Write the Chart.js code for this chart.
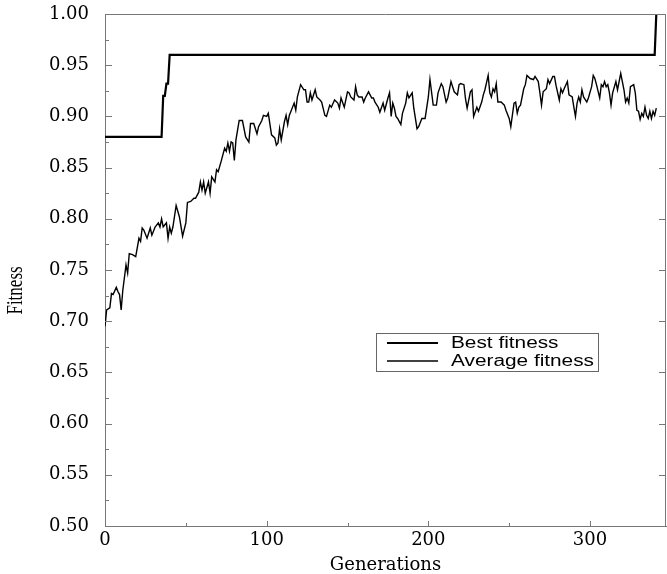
<!DOCTYPE html>
<html>
<head>
<meta charset="utf-8">
<script src="https://cdn.jsdelivr.net/npm/chart.js@4/dist/chart.umd.min.js"></script>
<style>
    body { margin: 0; background: #fff; }
    canvas { display: block; }
</style>
</head>
<body>
<canvas id="fitChart" width="667" height="574"></canvas>
<script>
// Best fitness (step line)
const bestGen = [0, 35, 36, 37, 38, 39, 40, 340, 341];
const bestFit = [0.88, 0.88, 0.92, 0.92, 0.932, 0.932, 0.96, 0.96, 1.00];

// Average fitness
const avgGen = [
    0, 1, 3, 4, 5, 7, 8, 9, 10, 11,
    13, 14, 15, 17, 19, 21, 22, 23, 24, 26,
    28, 29, 31, 33, 34, 35, 36, 38, 39, 40,
    41, 42, 44, 46, 48, 50, 51, 53, 55, 56,
    58, 59, 60, 61, 62, 64, 65, 66, 68, 69,
    70, 72, 74, 75, 76, 77, 78, 79, 80, 81,
    83, 85, 87, 89, 90, 92, 94, 95, 97, 98,
    100, 101, 103, 105, 106, 107, 108, 109, 111, 112,
    113, 114, 117, 118, 119, 121, 123, 124, 125, 126,
    127, 128, 130, 131, 133, 134, 136, 137, 139, 140,
    142, 144, 145, 146, 148, 150, 151, 152, 154, 155,
    156, 157, 159, 160, 161, 163, 165, 166, 167, 169,
    170, 172, 173, 175, 176, 177, 178, 179, 180, 181,
    183, 184, 186, 187, 188, 190, 191, 193, 194, 196,
    198, 200, 201, 203, 205, 206, 208, 209, 211, 212,
    214, 216, 218, 219, 220, 222, 223, 224, 226, 227,
    228, 230, 231, 233, 234, 235, 237, 238, 239, 240,
    241, 242, 243, 245, 247, 248, 250, 251, 253, 254,
    255, 256, 257, 259, 260, 261, 263, 265, 266, 268,
    269, 270, 271, 273, 274, 275, 277, 278, 279, 281,
    282, 283, 284, 286, 287, 289, 290, 291, 292, 293,
    294, 295, 296, 298, 299, 301, 302, 303, 304, 306,
    307, 308, 309, 310, 311, 312, 313, 314, 316, 317,
    319, 320, 321, 322, 323, 324, 325, 327, 328, 329,
    330, 331, 332, 333, 334, 335, 336, 337, 338, 339,
    340, 341
];
const avgFit = [
    0.695, 0.711, 0.713, 0.727, 0.726, 0.733, 0.729, 0.726, 0.711, 0.730,
    0.755, 0.747, 0.766, 0.765, 0.763, 0.781, 0.778, 0.791, 0.789, 0.781,
    0.791, 0.784, 0.792, 0.796, 0.792, 0.800, 0.792, 0.796, 0.781, 0.792,
    0.786, 0.792, 0.813, 0.802, 0.783, 0.796, 0.816, 0.817, 0.820, 0.820,
    0.826, 0.836, 0.828, 0.836, 0.825, 0.836, 0.825, 0.841, 0.836, 0.848,
    0.846, 0.857, 0.869, 0.866, 0.874, 0.866, 0.875, 0.874, 0.857, 0.877,
    0.896, 0.896, 0.880, 0.875, 0.893, 0.893, 0.883, 0.890, 0.896, 0.901,
    0.900, 0.903, 0.882, 0.879, 0.872, 0.874, 0.888, 0.877, 0.895, 0.901,
    0.892, 0.901, 0.913, 0.906, 0.919, 0.931, 0.926, 0.926, 0.914, 0.914,
    0.923, 0.916, 0.926, 0.919, 0.916, 0.914, 0.901, 0.900, 0.911, 0.909,
    0.916, 0.913, 0.908, 0.918, 0.909, 0.924, 0.923, 0.919, 0.916, 0.929,
    0.921, 0.919, 0.919, 0.914, 0.918, 0.924, 0.918, 0.918, 0.914, 0.909,
    0.904, 0.913, 0.906, 0.918, 0.923, 0.900, 0.913, 0.908, 0.900, 0.898,
    0.892, 0.903, 0.913, 0.923, 0.918, 0.923, 0.908, 0.888, 0.890, 0.898,
    0.898, 0.919, 0.936, 0.911, 0.911, 0.923, 0.932, 0.929, 0.914, 0.918,
    0.934, 0.924, 0.921, 0.931, 0.932, 0.931, 0.917, 0.908, 0.924, 0.926,
    0.900, 0.909, 0.905, 0.914, 0.921, 0.926, 0.940, 0.923, 0.919, 0.927,
    0.924, 0.932, 0.914, 0.914, 0.911, 0.906, 0.898, 0.890, 0.913, 0.914,
    0.903, 0.909, 0.911, 0.927, 0.931, 0.940, 0.937, 0.936, 0.939, 0.934,
    0.923, 0.911, 0.924, 0.927, 0.936, 0.932, 0.939, 0.939, 0.930, 0.916,
    0.927, 0.923, 0.927, 0.934, 0.921, 0.919, 0.909, 0.900, 0.913, 0.919,
    0.914, 0.926, 0.919, 0.914, 0.918, 0.929, 0.940, 0.937, 0.931, 0.918,
    0.931, 0.929, 0.934, 0.929, 0.931, 0.923, 0.911, 0.923, 0.934, 0.926,
    0.942, 0.934, 0.926, 0.914, 0.918, 0.913, 0.929, 0.931, 0.923, 0.906,
    0.905, 0.897, 0.903, 0.900, 0.909, 0.901, 0.898, 0.905, 0.898, 0.905,
    0.901, 0.908
];

const xTicks = [0, 100, 200, 300];
const xMinor = [50, 150, 250];
const yTicks = [0.50, 0.55, 0.60, 0.65, 0.70, 0.75, 0.80, 0.85, 0.90, 0.95, 1.00];
const yMinor = [0.525, 0.575, 0.625, 0.675, 0.725, 0.775, 0.825, 0.875, 0.925, 0.975];

const AXIS_GREY = "#777";

// ticks pointing inward + top / right frame + y title
const framePlugin = {
    id: "frame",
    afterDraw(chart) {
        const { ctx, chartArea: a, scales: { x, y } } = chart;
        ctx.save();
        ctx.strokeStyle = AXIS_GREY;
        ctx.lineWidth = 1;
        ctx.beginPath();
        ctx.moveTo(a.left, a.top + 0.5);
        ctx.lineTo(a.right, a.top + 0.5);
        ctx.moveTo(a.right - 0.5, a.top);
        ctx.lineTo(a.right - 0.5, a.bottom);
        yTicks.forEach(v => {
            const py = Math.round(y.getPixelForValue(v)) + 0.5;
            ctx.moveTo(a.left, py); ctx.lineTo(a.left + 7, py);
            ctx.moveTo(a.right, py); ctx.lineTo(a.right - 7, py);
        });
        yMinor.forEach(v => {
            const py = Math.round(y.getPixelForValue(v)) + 0.5;
            ctx.moveTo(a.left, py); ctx.lineTo(a.left + 4, py);
        });
        xTicks.forEach(v => {
            const px = Math.round(x.getPixelForValue(v)) + 0.5;
            ctx.moveTo(px, a.bottom); ctx.lineTo(px, a.bottom - 5);
        });
        xMinor.forEach(v => {
            const px = Math.round(x.getPixelForValue(v)) + 0.5;
            ctx.moveTo(px, a.bottom); ctx.lineTo(px, a.bottom - 3);
        });
        ctx.stroke();

        // y axis title, sits a bit below the middle like in the original
        ctx.translate(16, y.getPixelForValue(0.73));
        ctx.rotate(-Math.PI / 2);
        ctx.scale(1, 1.3);
        ctx.fillStyle = "#000";
        ctx.font = "17px 'Liberation Serif'";
        ctx.textAlign = "center";
        ctx.textBaseline = "middle";
        ctx.fillText("Fitness", 0, 0);
        ctx.restore();
    }
};

// boxed legend inside the plot
const boxLegend = {
    id: "boxLegend",
    afterDraw(chart) {
        const ctx = chart.ctx;
        const bx = 376, by = 333, bw = 222, bh = 38;
        ctx.save();
        ctx.strokeStyle = "#666";
        ctx.lineWidth = 1;
        ctx.strokeRect(bx + 0.5, by + 0.5, bw, bh);
        chart.data.datasets.forEach((ds, i) => {
            const ly = by + 10 + i * 18;
            ctx.strokeStyle = ds.borderColor;
            ctx.lineWidth = ds.borderWidth;
            ctx.beginPath();
            ctx.moveTo(bx + 11, ly);
            ctx.lineTo(bx + 62, ly);
            ctx.stroke();
            ctx.save();
            ctx.translate(bx + 75, ly + 5);
            ctx.scale(1.3, 1);
            ctx.fillStyle = "#000";
            ctx.font = "16px 'Liberation Sans'";
            ctx.textBaseline = "alphabetic";
            ctx.fillText(ds.label, 0, 0);
            ctx.restore();
        });
        ctx.restore();
    }
};

const ctx = document.getElementById("fitChart").getContext("2d");
new Chart(ctx, {
    type: "line",
    data: {
        datasets: [
            {
                label: "Best fitness",
                data: bestGen.map((g, i) => ({ x: g, y: bestFit[i] })),
                borderColor: "#000",
                borderWidth: 2.2,
                pointRadius: 0,
                tension: 0
            },
            {
                label: "Average fitness",
                data: avgGen.map((g, i) => ({ x: g, y: avgFit[i] })),
                borderColor: "#000",
                borderWidth: 1.4,
                pointRadius: 0,
                tension: 0
            }
        ]
    },
    options: {
        responsive: false,
        animation: false,
        devicePixelRatio: 1,
        layout: { padding: { top: 14, right: 1, left: 0, bottom: 0 } },
        plugins: {
            legend: { display: false },
            tooltip: { enabled: false }
        },
        scales: {
            x: {
                type: "linear",
                min: 0,
                max: 347,
                afterBuildTicks: s => { s.ticks = xTicks.map(v => ({ value: v })); },
                afterFit: s => { s.height = 48; s.paddingLeft = 0; s.paddingRight = 0; },
                grid: { drawOnChartArea: false, drawTicks: false },
                border: { color: AXIS_GREY, width: 1 },
                ticks: {
                    color: "#000",
                    padding: 4,
                    maxRotation: 0,
                    font: { family: "'DejaVu Serif'", size: 18 }
                },
                title: {
                    display: true,
                    text: "Generations",
                    color: "#000",
                    padding: 0,
                    font: { family: "'DejaVu Serif'", size: 18, lineHeight: 1 }
                }
            },
            y: {
                min: 0.5,
                max: 1.0,
                afterBuildTicks: s => { s.ticks = yTicks.map(v => ({ value: v })); },
                afterFit: s => { s.width = 105; s.paddingTop = 0; s.paddingBottom = 0; },
                grid: { drawOnChartArea: false, drawTicks: false },
                border: { color: AXIS_GREY, width: 1 },
                ticks: {
                    color: "#000",
                    padding: 16,
                    font: { family: "'DejaVu Serif'", size: 18 },
                    callback: v => v.toFixed(2)
                }
            }
        }
    },
    plugins: [framePlugin, boxLegend]
});
</script>
</body>
</html>
